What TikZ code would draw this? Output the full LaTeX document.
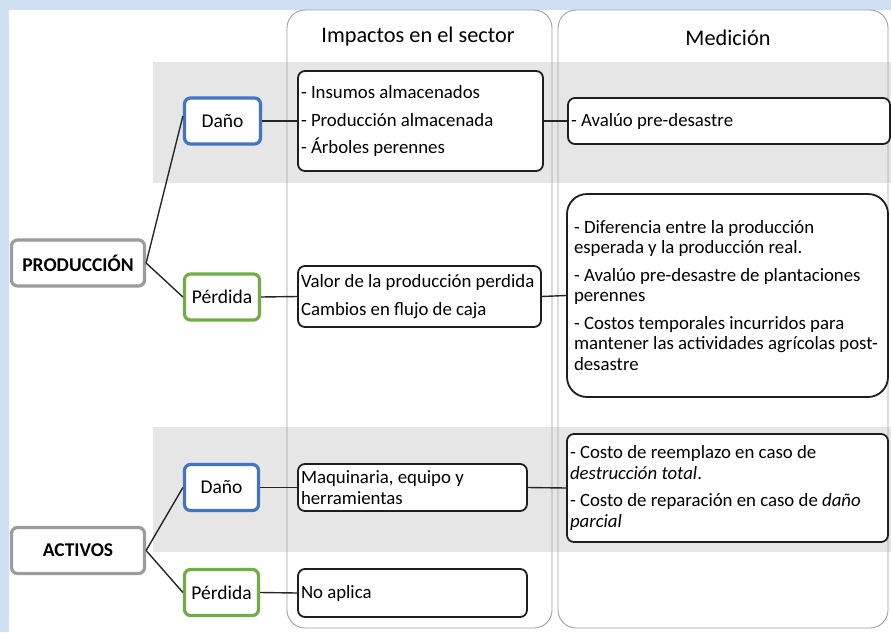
\documentclass[tikz,border=0pt]{standalone}
\usepackage{fontspec}
\setmainfont{Carlito}
\definecolor{bgblue}{HTML}{CFE0F3}
\definecolor{band}{HTML}{E6E6E6}
\definecolor{panelline}{HTML}{A0A0A0}
\definecolor{bluebd}{HTML}{4472C4}
\definecolor{greenbd}{HTML}{70AD47}
\definecolor{graybd}{HTML}{9C9C9C}
\definecolor{boxbd}{HTML}{1E1E1E}
\newcommand{\nohyph}{\hyphenpenalty=10000\relax\exhyphenpenalty=10000\relax}
\begin{document}
\begin{tikzpicture}[x=1pt,y=-1pt,
  body/.style={font=\fontsize{18.8}{20.5}\selectfont\nohyph},
  catbox/.style={draw=#1, line width=3.2pt, rounded corners=6pt, fill=white, minimum height=46pt, inner sep=0pt, font=\fontsize{19.5}{21}\selectfont},
  topbox/.style={draw=graybd, line width=3.2pt, rounded corners=6pt, fill=white, minimum width=133pt, minimum height=46pt, inner sep=0pt, font=\fontsize{19.5}{21}\selectfont\bfseries},
  txtbox/.style={draw=boxbd, line width=1.8pt, rounded corners=7pt, fill=white, align=flush left, inner xsep=3pt, inner ysep=0pt, body},
  conn/.style={draw=black!85, line width=1.4pt},
  panel/.style={draw=panelline, line width=0.9pt, rounded corners=18pt},
  title/.style={font=\fontsize{22.3}{24}\selectfont}
]
\useasboundingbox (0,0) rectangle (891,632);
% backgrounds
\fill[bgblue] (0,0) rectangle (891,632);
\fill[white] (9,10) rectangle (891,632);
\fill[band] (153,62) rectangle (891,183);
\fill[band] (153,427) rectangle (891,552);
% column panels
\draw[panel] (287,10) rectangle (552,628);
\draw[panel] (558,10) rectangle (888,628);
\node[title] (t1) at (418,37) {Impactos en el sector};
\node[title] (t2) at (728,38) {Medición};

% left hierarchy
\node[topbox] (prod) at (78,263) {PRODUCCIÓN};
\node[topbox] (act) at (78,550.5) {ACTIVOS};
\node[catbox=bluebd, minimum width=76pt] (d1) at (222.5,121) {Daño};
\node[catbox=greenbd, minimum width=75pt] (p1) at (222,297) {Pérdida};
\node[catbox=bluebd, minimum width=74pt] (d2) at (221.5,487.5) {Daño};
\node[catbox=greenbd, minimum width=74pt] (p2) at (221.5,592.5) {Pérdida};

% impact boxes
\node[txtbox, text width=239pt, minimum height=100pt] (b1) at (420.5,121)
  {\spaceskip=0pt\relax - Insumos almacenados\\[7pt]- Producción almacenada\\[7pt]- Árboles perennes};
\node[txtbox, text width=237pt, minimum height=61pt] (b2) at (419.5,296.5)
  {\spaceskip=0pt\relax Valor de la producción perdida\\[7pt]Cambios en flujo de caja};
\node[txtbox, text width=223pt, minimum height=47pt] (b3) at (412.5,487.5)
  {\spaceskip=0pt\relax Maquinaria, equipo y\\herramientas};
\node[txtbox, text width=223pt, minimum height=48pt] (b4) at (412.5,593)
  {\spaceskip=0pt\relax No aplica};

% measurement boxes
\node[txtbox, text width=316pt, minimum height=46pt] (m1) at (729,121)
  {\spaceskip=0pt\relax - Avalúo pre-desastre};
\node[txtbox, rounded corners=20pt, inner xsep=7pt, text width=307pt, minimum height=203pt] (m2) at (727.5,295.5)
  {\spaceskip=0pt\relax - Diferencia entre la producción\\esperada y la producción real.\\[7pt]- Avalúo pre-desastre de plantaciones\\perennes\\[7pt]- Costos temporales incurridos para\\mantener las actividades agrícolas post-\\desastre};
\node[txtbox, text width=315pt, minimum height=108pt] (m3) at (727.5,488)
  {\spaceskip=0pt\relax - Costo de reemplazo en caso de\\\textit{destrucción total}.\\[7pt]- Costo de reparación en caso de \textit{daño}\\\textit{parcial}};

% connectors
\draw[conn] (prod.east) -- ([yshift=5pt]d1.west);
\draw[conn] (prod.east) -- (p1.west);
\draw[conn] (act.east) -- (d2.west);
\draw[conn] (act.east) -- (p2.west);
\draw[conn] (d1.east) -- (b1.west);
\draw[conn] (p1.east) -- (b2.west);
\draw[conn] (d2.east) -- (b3.west);
\draw[conn] (p2.east) -- (b4.west);
\draw[conn] (b1.east) -- (m1.west);
\draw[conn] (b2.east) -- (m2.west);
\draw[conn] (b3.east) -- (m3.west);
\end{tikzpicture}
\end{document}
